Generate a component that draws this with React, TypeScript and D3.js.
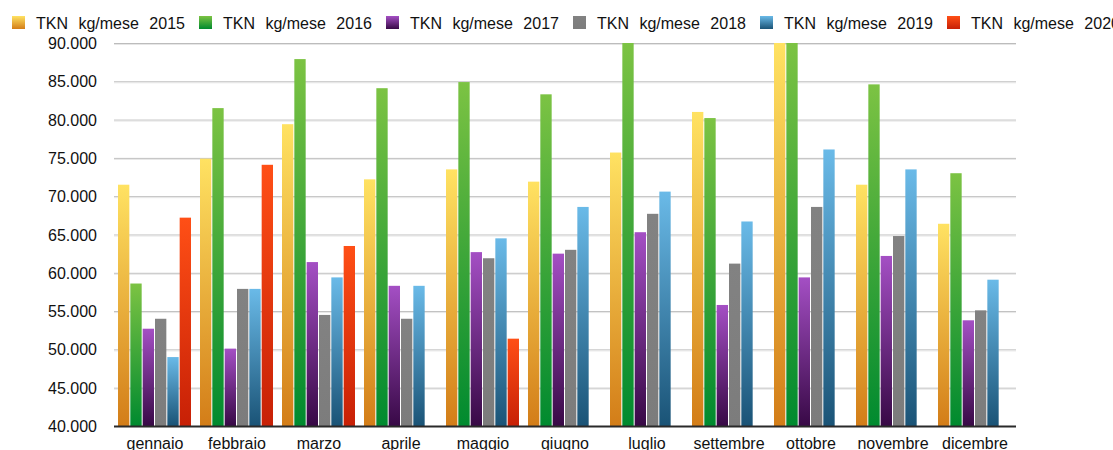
import React from "react";
import { scaleBand, scaleLinear, formatLocale, range } from "d3";

const months = [
  "gennaio",
  "febbraio",
  "marzo",
  "aprile",
  "maggio",
  "giugno",
  "luglio",
  "settembre",
  "ottobre",
  "novembre",
  "dicembre",
];

const years = ["2015", "2016", "2017", "2018", "2019", "2020"];

// TKN kg/mese, one array per year (null = no bar)
const tkn2015 = [71500, 74900, 79400, 72200, 73500, 71900, 75700, 81000, 91000, 71500, 66400];
const tkn2016 = [58600, 81500, 87900, 84100, 84900, 83300, 91000, 80200, 90500, 84600, 73000];
const tkn2017 = [52700, 50100, 61400, 58300, 62700, 62500, 65300, 55800, 59400, 62200, 53800];
const tkn2018 = [54000, 57900, 54500, 54000, 61900, 63000, 67700, 61200, 68600, 64800, 55100];
const tkn2019 = [49000, 57900, 59400, 58300, 64500, 68600, 70600, 66700, 76100, 73500, 59100];
const tkn2020 = [67200, 74100, 63500, null, 51400, null, null, null, null, null, null];

const yTicks = [40000, 45000, 50000, 55000, 60000, 65000, 70000, 75000, 80000, 85000, 90000];

const series = [tkn2015, tkn2016, tkn2017, tkn2018, tkn2019, tkn2020];

// gradient stops (top, bottom) per year
const gradients = [
  ["#ffe262", "#d37d18"],
  ["#7cc343", "#008a2f"],
  ["#a44fc4", "#380946"],
  ["#828282", "#7c7c7c"],
  ["#6abae8", "#1a5376"],
  ["#ff4f16", "#c72006"],
];

const it = formatLocale({ decimal: ",", thousands: ".", grouping: [3], currency: ["€", ""] });
const fmt = it.format(",.0f");

const font = "'Liberation Sans', Arial, Helvetica, sans-serif";

export default function App() {
  const width = 1113;
  const height = 450;
  const left = 114;
  const right = 1016;
  const top = 43;
  const bottom = 426;

  const x0 = scaleBand().domain(months).range([left, right]).padding(0);
  const x1 = scaleBand()
    .domain(years)
    .range([4, x0.bandwidth() - 4])
    .padding(0);
  const y = scaleLinear().domain([40000, 90000]).range([bottom, top]).clamp(true);

  return (
    <svg
      width={width}
      height={height}
      style={{ position: "absolute", left: 0, top: 0, background: "#fff" }}
      fontFamily={font}
    >
      <defs>
        {gradients.map(([a, b], i) => (
          <linearGradient key={i} id={`g${i}`} x1="0" y1="0" x2="0" y2="1">
            <stop offset="0%" stopColor={a} />
            <stop offset="100%" stopColor={b} />
          </linearGradient>
        ))}
      </defs>

      {/* legend */}
      {years.map((yr, i) => {
        const lx = 12 + i * 187;
        return (
          <g key={yr} transform={`translate(${lx},0)`}>
            <rect x={0} y={16} width={13} height={13} fill={`url(#g${i})`} />
            <text x={24} y={29} fontSize={16} fill="#111" style={{ wordSpacing: "6px" }}>
              {`TKN kg/mese ${yr}`}
            </text>
          </g>
        );
      })}

      {/* grid */}
      {yTicks.slice(1).map((t) => (
        <g key={t}>
          <line x1={left} x2={right} y1={y(t) + 0.5} y2={y(t) + 0.5} stroke="#bcbcbc" />
          <line x1={left} x2={right} y1={y(t) + 1.5} y2={y(t) + 1.5} stroke="#e6e6e6" />
        </g>
      ))}

      {/* y labels */}
      {yTicks.map((t) => (
        <text
          key={t}
          x={97}
          y={y(t) + 6}
          textAnchor="end"
          fontSize={16}
          fill="#111"
        >
          {fmt(t)}
        </text>
      ))}

      {/* bars */}
      {months.map((m, mi) => (
        <g key={m} transform={`translate(${x0(m)},0)`}>
          {series.map((s, si) => {
            const v = s[mi];
            if (v == null) return null;
            return (
              <rect
                key={si}
                x={x1(years[si])}
                y={y(v)}
                width={x1.bandwidth() - 1}
                height={bottom - y(v)}
                fill={`url(#g${si})`}
              />
            );
          })}
        </g>
      ))}

      {/* baseline */}
      <line x1={left} x2={right} y1={bottom + 0.5} y2={bottom + 0.5} stroke="#2a2a2a" strokeWidth={2} />

      {/* x labels */}
      {months.map((m) => (
        <text
          key={m}
          x={(x0(m) as number) + x0.bandwidth() / 2}
          y={449}
          textAnchor="middle"
          fontSize={16}
          fill="#111"
        >
          {m}
        </text>
      ))}
    </svg>
  );
}
